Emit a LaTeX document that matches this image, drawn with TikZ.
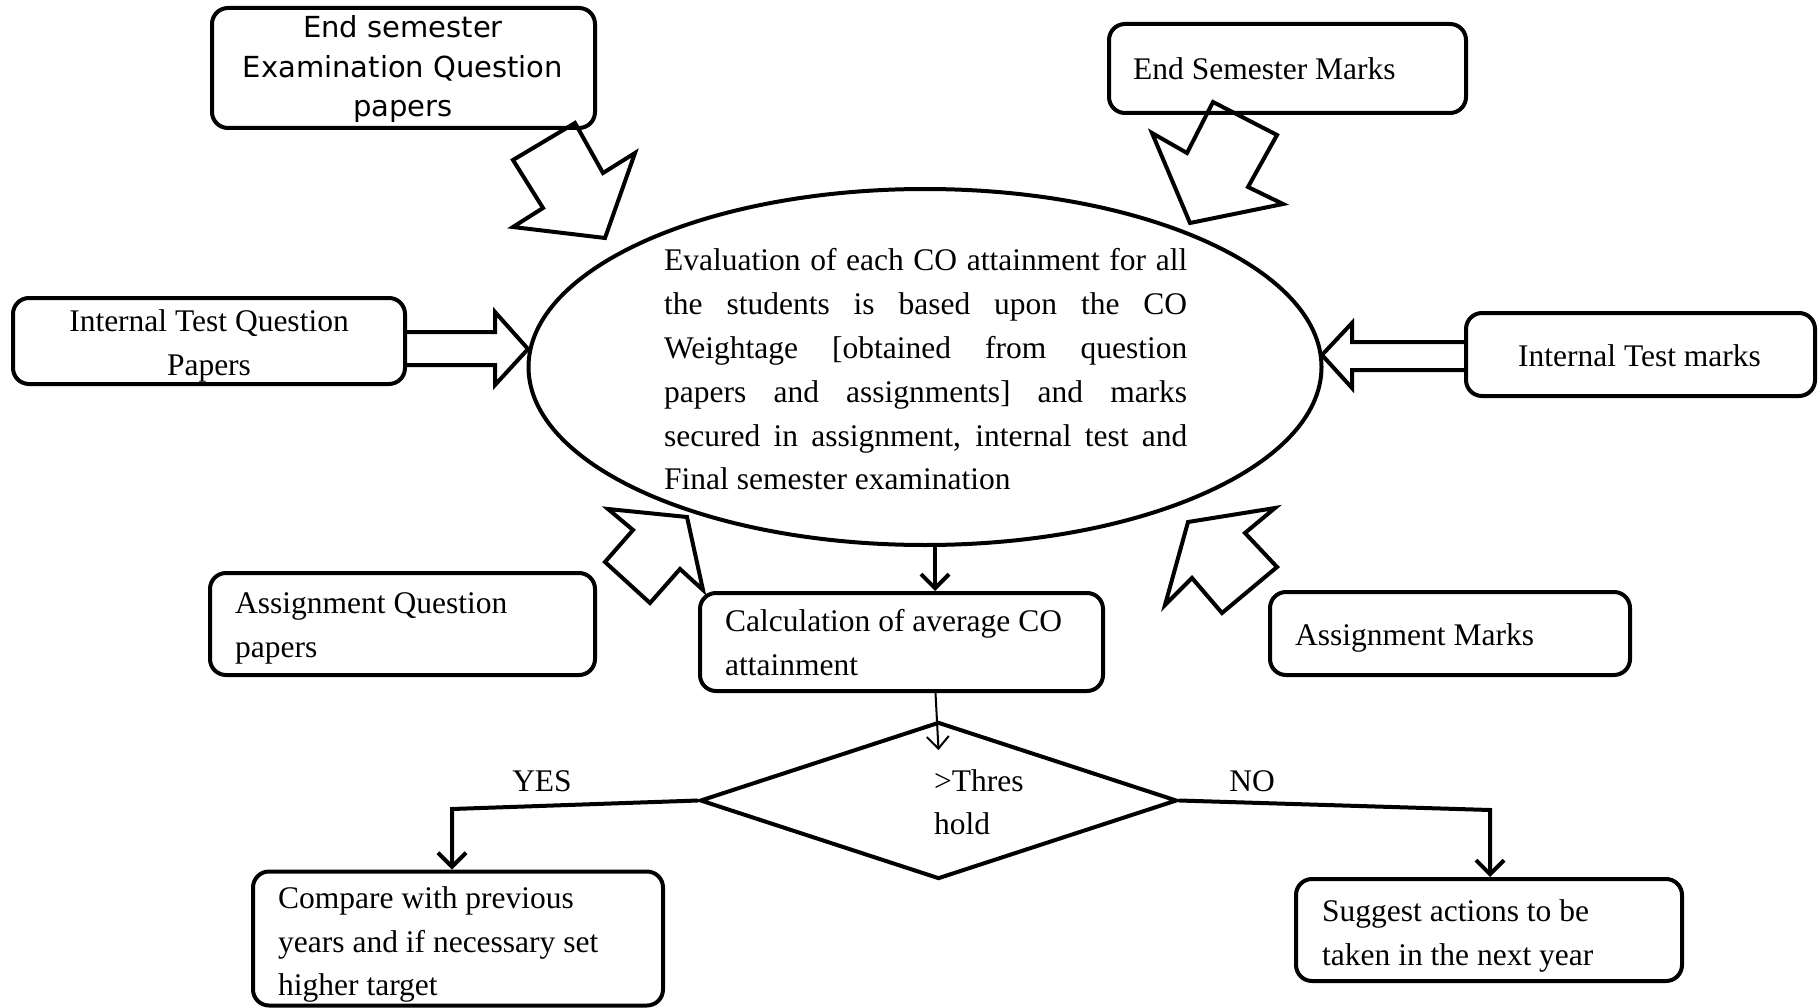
\documentclass[tikz,border=0pt]{standalone}
\usepackage{fontspec}
\setmainfont{Liberation Serif}
\newfontfamily\sansf{DejaVu Sans}
\usetikzlibrary{arrows.meta,shapes.geometric}
\begin{document}
\begin{tikzpicture}[x=1pt,y=-1pt,
  box/.style={draw, line width=4pt, rounded corners=16pt, inner sep=0pt},
  txt/.style={inner sep=0pt, anchor=base west, font=\fontsize{31.5}{44}\selectfont},
  ctxt/.style={txt, anchor=base},
  stxt/.style={inner sep=0pt, anchor=base, font=\sansf\fontsize{29}{39.5}\selectfont},
  fat/.style={draw, line width=4pt, line join=miter},
  flow/.style={draw, line width=4pt, -{Straight Barb[length=14pt,width=28pt,line width=4pt]}},
  thinflow/.style={draw, line width=2pt, -{Straight Barb[length=12pt,width=22pt,line width=2pt]}}
]
\useasboundingbox (0,0) rectangle (1819,1008);

% boxes
\node[box, minimum width=383pt, minimum height=120pt] (esq) at (403.5,68) {};
\node[box, minimum width=357pt, minimum height=89pt] (esm) at (1287.5,68.5) {};
\node[box, minimum width=392pt, minimum height=86pt] (itq) at (209,341) {};
\node[box, minimum width=349pt, minimum height=83pt] (itm) at (1640.5,354.5) {};
\node[box, minimum width=385pt, minimum height=102pt] (aqp) at (402.5,624) {};
\node[box, minimum width=403pt, minimum height=98pt] (calc) at (901.5,642) {};
\node[box, minimum width=360pt, minimum height=83pt] (am) at (1450,633.5) {};
\node[box, minimum width=410pt, minimum height=134pt] (comp) at (458,938.5) {};
\node[box, minimum width=386pt, minimum height=102pt] (sug) at (1489,930) {};

% ellipse and diamond
\node[draw, ellipse, line width=4pt, minimum width=793pt, minimum height=356pt, inner sep=0pt] (ell) at (925,367) {};
\node[draw, diamond, line width=4pt, minimum width=477pt, minimum height=157pt, inner sep=0pt, aspect=3] (dia) at (938.5,800.5) {};

% texts
\node[stxt] (t1a) at (403,38) {End semester};
\node[stxt] (t1b) at (403,78) {Examination Question};
\node[stxt] (t1c) at (403,117) {papers};
\node[txt] (t2) at (1133,80) {End Semester Marks};
\node[ctxt] (t3a) at (209,331) {Internal Test Question};
\node[ctxt] (t3b) at (209,375) {Papers};
\node[txt] (t4) at (1518,366) {Internal Test marks};
\node[txt] (t5a) at (235,613) {Assignment Question};
\node[txt] (t5b) at (235,657) {papers};
\node[txt] (t6a) at (725,631) {Calculation of average CO};
\node[txt] (t6b) at (725,675) {attainment};
\node[txt] (t7) at (1295,645) {Assignment Marks};
\node[txt] (t8a) at (278,908) {Compare with previous};
\node[txt] (t8b) at (278,952) {years and if necessary set};
\node[txt] (t8c) at (278,995) {higher target};
\node[txt] (t9a) at (1322,921) {Suggest actions to be};
\node[txt] (t9b) at (1322,965) {taken in the next year};
\node[ctxt] (yes) at (542,791) {YES};
\node[ctxt] (no) at (1252,791) {NO};
\node[txt] (th1) at (934,791) {>Thres};
\node[txt] (th2) at (934,834) {hold};

\node[txt] (e1) at (664,270) {\makebox[523pt][s]{Evaluation of each CO attainment for all}};
\node[txt] (e2) at (664,314) {\makebox[523pt][s]{the students is based upon the CO}};
\node[txt] (e3) at (664,358) {\makebox[523pt][s]{Weightage [obtained from question}};
\node[txt] (e4) at (664,402) {\makebox[523pt][s]{papers and assignments] and marks}};
\node[txt] (e5) at (664,446) {\makebox[523pt][s]{secured in assignment, internal test and}};
\node[txt] (e6) at (664,489) {Final semester examination};

% fat arrows
\draw[fat] (575,123) -- (603,173) -- (635,153) -- (605,238) -- (513,227) -- (543,208) -- (513,160) -- cycle;
\draw[fat] (1213,102) -- (1277,135) -- (1248,187) -- (1283,204) -- (1190,223) -- (1152,133) -- (1187,153) -- cycle;
\draw[fat] (608,509) -- (687,517) -- (703,590) -- (680,569) -- (650,603) -- (605,562) -- (633,530) -- cycle;
\draw[fat] (1188,522) -- (1275,508) -- (1245,533) -- (1277,567) -- (1222,613) -- (1192,578) -- (1165,605) -- cycle;

% double-line arrows
\draw[fat] ([yshift=9pt]itq.east) -- (495,332) -- (495,312) -- (528,349) -- (495,385) -- (495,365) -- ([yshift=-24pt]itq.east);
\draw[fat] ([yshift=12.5pt]itm.west) -- (1352,342) -- (1352,323) -- (1322,355) -- (1352,388) -- (1352,370) -- ([yshift=-15.5pt]itm.west);

% connectors
\draw[flow] ([xshift=10pt]ell.south) -- ([xshift=10pt]ell.south |- calc.north);
\draw[thinflow] ([xshift=-3pt]calc.south -| dia.north) -- ([yshift=-30pt]dia.north);
\coordinate (yesc) at (452,809);
\coordinate (noc) at (1490,810);
\draw[flow] (dia.west) -- (yesc) -- (yesc |- comp.north);
\draw[flow] (dia.east) -- (noc) -- (noc |- sug.north);
\end{tikzpicture}
\end{document}
